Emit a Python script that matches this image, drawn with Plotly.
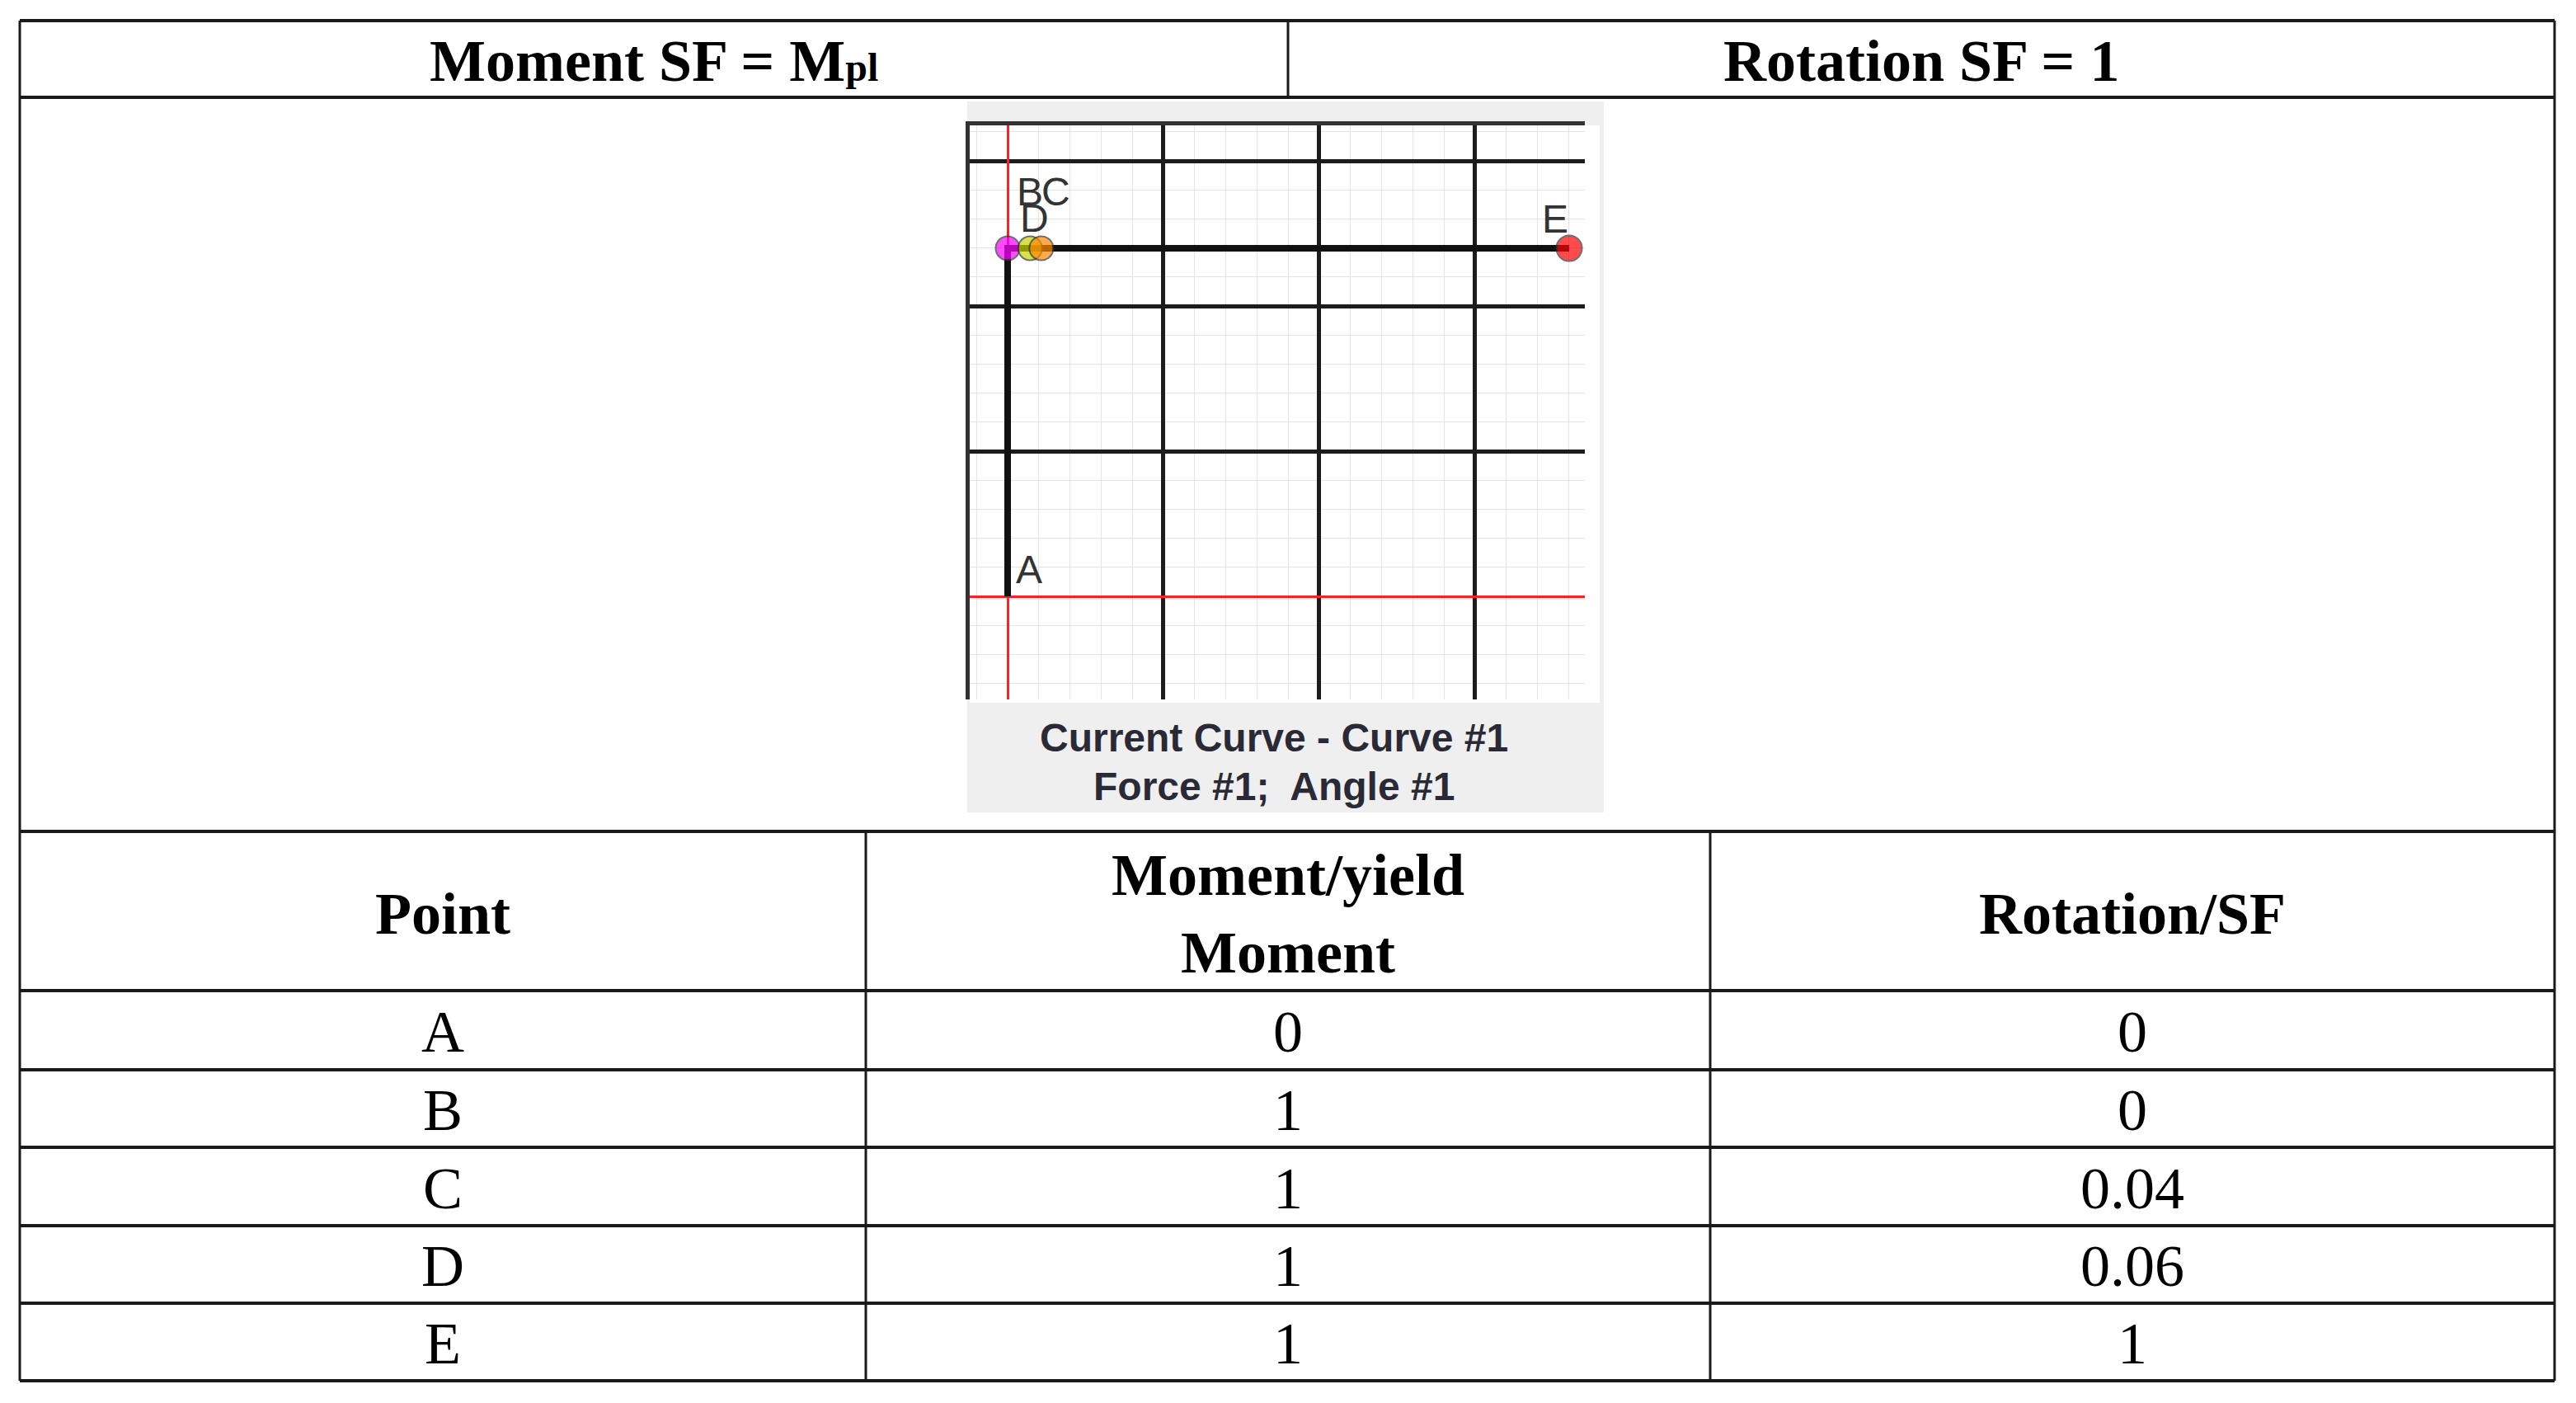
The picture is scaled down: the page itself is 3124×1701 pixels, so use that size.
import plotly.graph_objects as go

W, H = 3124, 1701
OFF = 8  # page body margin of the written html

# ---------------- data ----------------
points = ["A", "B", "C", "D", "E"]
moment_ratio = [0, 1, 1, 1, 1]          # Moment / yield moment
rotation_sf = [0, 0, 0.04, 0.06, 1]     # Rotation / SF
header_left = "Moment SF = M<span style='font-size:48px'>pl</span>"
header_right = "Rotation SF = 1"
column_headers = ["Point", "Moment/yield<br>Moment", "Rotation/SF"]
caption_lines = ["Current Curve - Curve #1", "Force #1;  Angle #1"]

# ---------------- style ----------------
marker_colors = ["rgba(0,0,0,0)", "#ff00ff", "#c8d400", "#ff8800", "#ff0000"]
marker_sizes = [0, 29, 29, 29, 31]
# label offsets (px) relative to each point: (xanchor, xshift, yshift)
label_offsets = {
    "A": ("left", 8, 4),
    "B": ("left", 9, 40),
    "C": ("left", 12, 40),
    "D": ("left", -28, 8),
    "E": ("right", 1, 7),
}
SERIF = "Liberation Serif"
SANS = "Liberation Sans"
LINE = "#1a1a1a"

# geometry of the page (pixels)
TOP, HDR_BOT = 25, 118
LEFT, RIGHT, HDR_SPLIT = 24, 3098, 1562
row_edges = [1008, 1201, 1297, 1391, 1486, 1580, 1674]
col_edges = [24, 1050, 2074, 3098]
IMG = dict(x0=1173, x1=1945, y0=123, y1=985)
PLOT = dict(x0=1176, x1=1922, y0=152, y1=848)

# axis calibration of the embedded curve screenshot
X_ZERO_PX, X_ONE_PX = 1222, 1903
Y_ZERO_PX, Y_ONE_PX = 723, 301


def px(x):
    return (x - OFF) / W


def py(y):
    return 1 - (y - OFF) / H


xs = (X_ONE_PX - X_ZERO_PX)
ys = (Y_ZERO_PX - Y_ONE_PX)
x_range = [(PLOT["x0"] - X_ZERO_PX) / xs, (PLOT["x1"] - X_ZERO_PX) / xs]
y_range = [(Y_ZERO_PX - PLOT["y1"]) / ys, (Y_ZERO_PX - PLOT["y0"]) / ys]

fig = go.Figure()

# curve
fig.add_trace(go.Scatter(
    x=rotation_sf, y=moment_ratio, mode="lines+markers",
    line=dict(color="#111111", width=8),
    marker=dict(color=marker_colors, size=marker_sizes,
                line=dict(color="#333333", width=2)),
    hoverinfo="skip", showlegend=False, cliponaxis=False,
))

shapes = []
# embedded picture background
shapes.append(dict(type="rect", xref="paper", yref="paper", layer="below",
                   x0=px(IMG["x0"]), x1=px(IMG["x1"]), y0=py(IMG["y1"]), y1=py(IMG["y0"]),
                   fillcolor="#efefef", line=dict(width=0)))
shapes.append(dict(type="rect", xref="paper", yref="paper", layer="below",
                   x0=px(PLOT["x0"]), x1=px(1940), y0=py(852), y1=py(PLOT["y0"]),
                   fillcolor="#ffffff", line=dict(width=0)))


def hline(y, x0, x1, w=4):
    shapes.append(dict(type="line", xref="paper", yref="paper",
                       x0=px(x0), x1=px(x1), y0=py(y), y1=py(y),
                       line=dict(color=LINE, width=w)))


def vline(x, y0, y1, w=3):
    shapes.append(dict(type="line", xref="paper", yref="paper",
                       x0=px(x), x1=px(x), y0=py(y0), y1=py(y1),
                       line=dict(color=LINE, width=w)))


hline(TOP, LEFT, RIGHT)
hline(HDR_BOT, LEFT, RIGHT)
for y in row_edges:
    hline(y, LEFT, RIGHT)
vline(LEFT, TOP, row_edges[-1])
vline(RIGHT, TOP, row_edges[-1])
vline(HDR_SPLIT, TOP, HDR_BOT)
for x in col_edges[1:-1]:
    vline(x, row_edges[0], row_edges[-1])

annotations = []


def text(x, y, s, size=72, bold=False, family=SERIF, color="#000000"):
    annotations.append(dict(
        xref="paper", yref="paper", x=px(x), y=py(y), text=s, showarrow=False,
        xanchor="center", yanchor="middle",
        font=dict(family=family, size=size, color=color, weight=700 if bold else 400),
    ))


# top header
text((LEFT + HDR_SPLIT) / 2, (TOP + HDR_BOT) / 2 + 3, header_left, bold=True)
text((HDR_SPLIT + RIGHT) / 2, (TOP + HDR_BOT) / 2 + 3, header_right, bold=True)

# lower table
col_centers = [(col_edges[i] + col_edges[i + 1]) / 2 for i in range(3)]
hdr_mid = (row_edges[0] + row_edges[1]) / 2
for c, h in zip(col_centers, column_headers):
    text(c, hdr_mid + 3, h, bold=True)
for i, p in enumerate(points):
    ymid = (row_edges[i + 1] + row_edges[i + 2]) / 2 + 2
    text(col_centers[0], ymid, p)
    text(col_centers[1], ymid, f"{moment_ratio[i]:g}")
    text(col_centers[2], ymid, f"{rotation_sf[i]:g}")

# caption of the embedded picture
text(1545, 894, caption_lines[0], size=48, bold=True, family=SANS, color="#2a2a36")
text(1545, 953, caption_lines[1], size=48, bold=True, family=SANS, color="#2a2a36")

# point labels
for p, xv, yv in zip(points, rotation_sf, moment_ratio):
    anchor, dx, dy = label_offsets[p]
    annotations.append(dict(
        xref="x", yref="y", x=xv, y=yv, text=p, showarrow=False,
        xanchor=anchor, yanchor="bottom", xshift=dx, yshift=dy,
        font=dict(family=SANS, size=48, color="#333333"),
    ))

MAJ_X, MAJ_Y = 0.2775, 0.417

fig.update_layout(
    width=W, height=H,
    margin=dict(l=0, r=0, t=0, b=0),
    paper_bgcolor="#ffffff",
    plot_bgcolor="rgba(0,0,0,0)",
    shapes=shapes,
    annotations=annotations,
    xaxis=dict(
        domain=[px(PLOT["x0"]), px(PLOT["x1"])], range=x_range,
        side="top", showline=True, linecolor="#333333", linewidth=5,
        showticklabels=False, ticks="",
        tick0=0, dtick=MAJ_X, showgrid=True, gridcolor="#1c1c1c", gridwidth=5,
        zeroline=True, zerolinecolor="#ff2020", zerolinewidth=3,
        minor=dict(tick0=0, dtick=MAJ_X / 5, showgrid=True, gridcolor="#e4e4e4", gridwidth=1),
        fixedrange=True,
    ),
    yaxis=dict(
        domain=[py(PLOT["y1"]), py(PLOT["y0"])], range=y_range,
        showline=True, linecolor="#333333", linewidth=5,
        showticklabels=False, ticks="",
        tick0=0, dtick=MAJ_Y, showgrid=True, gridcolor="#1c1c1c", gridwidth=5,
        zeroline=True, zerolinecolor="#ff2020", zerolinewidth=3,
        minor=dict(tick0=0, dtick=MAJ_Y / 5, showgrid=True, gridcolor="#e4e4e4", gridwidth=1),
        fixedrange=True,
    ),
)

fig.write_html("out.html")
